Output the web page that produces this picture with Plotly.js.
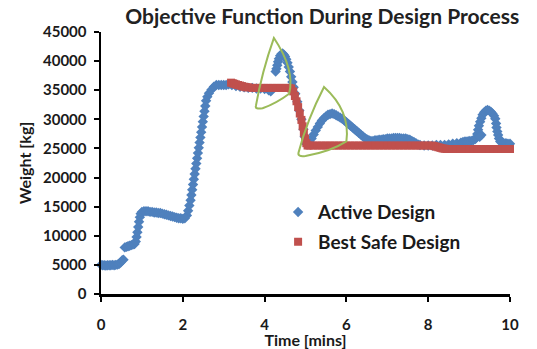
<!DOCTYPE html>
<html>
<head>
<meta charset="utf-8">
<script src="https://cdn.plot.ly/plotly-3.0.1.min.js"></script>
<style>html,body{margin:0;padding:0;background:#fff;}#chart{width:537px;height:349px;}</style>
</head>
<body>
<div id="chart"></div>
<script>
// Active Design (time in mins, weight in kg)
const activeX = [
0,0.04,0.08,0.12,0.16,0.2,0.24,0.28,0.32,0.36,0.4,0.44,0.48,0.52,0.55,
0.58,0.62,0.66,0.7,0.74,0.78,0.82,0.85,0.87,0.89,0.91,0.93,0.95,0.97,1.0,
1.05,1.1,1.15,1.2,1.25,1.3,1.35,1.4,1.45,1.5,1.55,1.6,1.65,1.7,1.75,1.8,1.85,1.9,1.95,2.0,2.05,2.1,
2.13,2.16,2.19,2.21,2.23,2.25,2.27,2.29,2.31,2.33,2.35,2.37,2.39,2.41,2.43,2.45,2.47,2.49,2.51,2.53,2.55,2.57,
2.6,2.64,2.7,2.76,2.82,2.88,2.94,3.0,3.06,3.12,
3.2,3.3,3.4,3.5,3.6,3.7,3.8,3.9,4.0,4.1,4.15,
4.27,4.29,4.31,4.33,4.35,4.38,4.41,4.44,4.47,4.5,4.53,4.56,4.59,4.62,4.65,4.68,4.71,
4.75,4.8,4.85,4.9,4.95,4.98,5.01,
5.05,5.1,5.15,5.2,5.25,5.3,5.35,5.4,5.45,5.5,5.55,5.6,5.65,5.7,5.75,5.8,5.85,5.9,5.95,6.0,6.05,6.1,6.15,6.2,6.25,6.3,6.35,6.4,6.45,6.5,
6.55,6.6,6.65,6.7,6.75,6.8,6.85,6.9,6.95,7.0,7.05,7.1,7.15,7.2,7.25,7.3,7.35,7.4,7.45,7.5,7.55,7.6,7.65,7.7,7.75,
7.8,7.9,8.0,8.1,8.2,8.3,8.4,8.5,8.6,8.7,8.8,8.85,
8.9,8.95,9.0,9.05,9.1,9.15,9.18,9.2,9.22,9.24,9.27,9.3,9.33,9.37,9.41,9.45,9.49,9.53,9.57,9.61,9.64,9.66,9.67,9.69,9.71,9.73,9.76,9.8,9.85,9.9,9.95,10.0,
9.3,9.26];
const activeY = [
5000,4950,4950,4900,4950,4950,4950,5000,4950,5000,5050,5150,5400,5800,5900,
8000,8100,8200,8300,8400,8500,8600,9000,9800,10600,11500,12400,13200,13800,14100,
14200,14200,14200,14100,14100,14000,14000,13900,13900,13800,13700,13600,13500,13400,13300,13200,13100,13000,13000,12900,13000,13500,
14300,15200,16100,17000,17900,18800,19700,20600,21500,22400,23300,24200,25100,26000,26900,27800,28700,29600,30500,31400,32300,33200,
33900,34500,35100,35600,35900,35900,35900,35900,35900,36000,
35900,35700,35600,35500,35400,35400,35300,35300,35200,35000,34800,
38200,38700,39300,39900,40400,40900,41200,41300,41100,40800,40300,39700,39000,38200,37300,36400,35500,
34400,33000,31500,30000,28300,27000,25900,
25700,26100,26700,27400,28100,28700,29300,29800,30200,30500,30800,30900,31000,30900,30700,30500,30300,30100,29800,29500,29200,28900,28600,28300,28000,27700,27400,27100,26800,26600,
26400,26300,26300,26400,26400,26500,26500,26600,26600,26700,26700,26700,26800,26800,26800,26800,26700,26700,26700,26600,26500,26300,26100,25900,25700,
25600,25500,25500,25500,25600,25600,25600,25700,25800,25900,26000,26100,
26200,26200,26300,26300,26400,26600,26900,27500,28200,28900,29600,30200,30800,31200,31500,31600,31500,31300,31000,30600,30100,29300,28600,27900,27300,26700,26200,26000,25900,25900,25800,25800,
27300,27000];

// Best Safe Design
const bestX = [
3.18,3.22,3.26,3.3,3.35,3.4,3.45,3.5,3.55,3.6,3.7,3.8,3.9,4.0,4.1,4.2,4.3,4.4,4.5,4.6,
4.65,4.7,4.74,4.78,4.82,4.86,4.9,4.93,4.96,4.99,5.02,5.05,
5.1,5.2,5.3,5.4,5.5,5.6,5.7,5.8,5.9,6.0,6.1,6.2,6.3,6.4,6.5,6.6,6.7,6.8,6.9,7.0,7.1,7.2,7.3,7.4,7.5,7.6,7.7,7.8,7.9,8.0,8.1,
8.15,8.2,8.25,8.3,8.35,8.4,8.45,8.5,
8.6,8.7,8.8,8.9,9.0,9.1,9.2,9.3,9.4,9.5,9.6,9.7,9.8,9.9,10.0];
const bestY = [
36300,36200,36100,36000,35900,35800,35700,35600,35500,35500,35400,35400,35400,35400,35400,35400,35400,35400,35400,35400,
35300,34800,34000,33100,32100,31000,29900,28800,27700,26700,25900,25500,
25500,25500,25500,25500,25500,25500,25500,25500,25500,25500,25500,25500,25500,25500,25500,25500,25500,25500,25500,25500,25500,25500,25500,25500,25500,25500,25500,25500,25500,25500,25500,
25400,25300,25200,25100,25000,24950,24900,24900,
24900,24900,24900,24900,24900,24900,24900,24900,24900,24900,24900,24900,24900,24900,24900];

const seriesNames = ["Active Design", "Best Safe Design"];
const xTicks = [0, 2, 4, 6, 8, 10];
const yTicks = [0, 5000, 10000, 15000, 20000, 25000, 30000, 35000, 40000, 45000];
const yTickText = ["0", "5000", "10000", "15000", "20000", "25000", "30000", "35000", "40000", "45000"];

const FONT = "Lato, 'Open Sans', sans-serif";
const BLUE = "#4F81BD", RED = "#C0504D", GREEN = "#9BBB59";

const traces = [
  {x: activeX, y: activeY, name: seriesNames[0], type: "scatter", mode: "markers",
   legendgroup: "a", cliponaxis: false,
   marker: {symbol: "diamond", size: 8, color: BLUE}},
  {x: bestX, y: bestY, name: seriesNames[1], type: "scatter", mode: "markers",
   legendgroup: "b", cliponaxis: false,
   marker: {symbol: "square", size: 8, color: RED}}
];

const axisCommon = {
  showline: true, linecolor: "#000", linewidth: 2.5, mirror: false,
  ticks: "outside", ticklen: 5, tickwidth: 2, tickcolor: "#000",
  showgrid: false, zeroline: false,
  tickfont: {family: FONT, size: 15, color: "#1a1a1a", weight: 700}
};

const layout = {
  width: 537, height: 349,
  margin: {l: 101, r: 27, t: 32, b: 55},
  paper_bgcolor: "#fff", plot_bgcolor: "#fff",
  title: {text: "Objective Function During Design Process",
          font: {family: FONT, size: 21, color: "#222", weight: 700},
          xref: "container", x: 0.6, xanchor: "center",
          yref: "container", y: 0.952, yanchor: "middle"},
  xaxis: Object.assign({}, axisCommon, {
    range: [0, 10], tickvals: xTicks, ticklabelstandoff: 10,
    title: {text: "Time [mins]", standoff: 0,
            font: {family: FONT, size: 16, color: "#1a1a1a", weight: 700}}
  }),
  yaxis: Object.assign({}, axisCommon, {
    range: [0, 45000], tickvals: yTicks, ticktext: yTickText, ticklabelstandoff: 4,
    title: {text: "Weight [kg]", standoff: 8,
            font: {family: FONT, size: 16, color: "#1a1a1a", weight: 700}}
  }),
  showlegend: true,
  legend: {x: 0.433, y: 0.385, xanchor: "left", yanchor: "top",
           bgcolor: "rgba(0,0,0,0)", tracegroupgap: 2, itemwidth: 30,
           font: {family: FONT, size: 19, color: "#1a1a1a", weight: 700}},
  shapes: [
    {type: "path", xref: "x", yref: "y", line: {color: GREEN, width: 2},
     path: "M 4.228,43980 Q 3.934,38140 3.787,32300 Q 3.76,31700 3.95,31900 Q 4.3,32800 4.60,34400 Q 4.75,38500 4.228,43980 Z"},
    {type: "path", xref: "x", yref: "y", line: {color: GREEN, width: 2},
     path: "M 5.453,35560 Q 5.037,29890 4.83,24300 Q 4.80,23500 5.0,23700 Q 5.6,24400 6.0,26200 Q 6.1,31500 5.453,35560 Z"}
  ],
  font: {family: FONT}
};

Plotly.newPlot("chart", traces, layout, {staticPlot: true, displayModeBar: false});
</script>
</body>
</html>
